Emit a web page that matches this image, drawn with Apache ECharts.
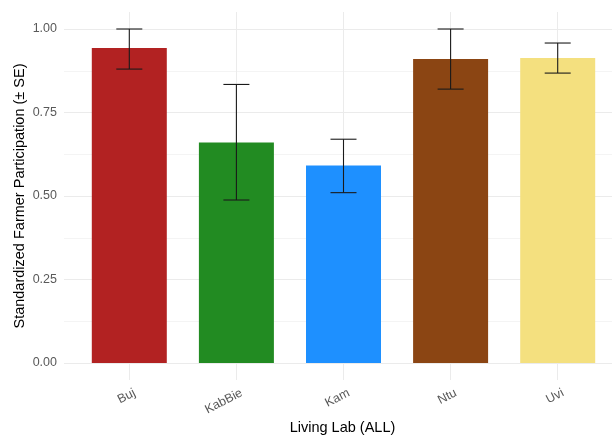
<!DOCTYPE html>
<html>
<head>
<meta charset="utf-8">
<script src="https://cdn.jsdelivr.net/npm/echarts@6/dist/echarts.min.js"></script>
<style>html,body{margin:0;padding:0;background:#fff;}#c{width:612px;height:438px;}</style>
</head>
<body>
<div id="c"></div>
<script>
var categories = ['Buj', 'KabBie', 'Kam', 'Ntu', 'Uvi'];
var means = [0.943, 0.660, 0.591, 0.910, 0.913];
var lower = [0.880, 0.488, 0.510, 0.820, 0.868];
var upper = [1.000, 0.834, 0.670, 1.000, 0.958];
var colors = ['#B22222', '#228B22', '#1E90FF', '#8B4513', '#F4E07F'];
var yTicks = [0, 0.25, 0.5, 0.75, 1.0];

var chart = echarts.init(document.getElementById('c'), null, {renderer: 'canvas'});
var font = '"Liberation Sans", Arial, sans-serif';

var option = {
  animation: false,
  backgroundColor: '#ffffff',
  grid: [
    {left: 75.75, right: 0.75, top: 29, bottom: 75},
    {left: 64, right: -9, top: 29, bottom: 75},
    {left: 129.3, right: 54.3, top: 12, bottom: 58}
  ],
  xAxis: [
    {gridIndex: 0, type: 'category', data: categories, show: false},
    {gridIndex: 1, type: 'value', min: 0, max: 1, show: false},
    {gridIndex: 2, type: 'category', data: categories, boundaryGap: false,
     axisLine: {show: false}, axisTick: {show: false},
     splitLine: {show: true, lineStyle: {color: '#EBEBEB', width: 1}},
     axisLabel: {rotate: 27, margin: 15, color: '#595959', fontSize: 12.5, fontFamily: font,
       padding: [0, -6, 0, 0]}}
  ],
  yAxis: [
    {gridIndex: 0, type: 'value', min: 0, max: 1, show: false},
    {gridIndex: 1, type: 'value', min: 0, max: yTicks[yTicks.length - 1], interval: 0.25,
     axisLine: {show: false}, axisTick: {show: false},
     axisLabel: {color: '#595959', fontSize: 12.5, fontFamily: font, margin: 7,
       formatter: function (v) { return v.toFixed(2); }},
     splitLine: {show: true, lineStyle: {color: '#EBEBEB', width: 1}},
     minorTick: {show: false, splitNumber: 2},
     minorSplitLine: {show: true, lineStyle: {color: '#F4F4F4', width: 1}}},
    {gridIndex: 2, type: 'value', min: 0, max: 1, show: false}
  ],
  series: [
    {
      type: 'bar', xAxisIndex: 0, yAxisIndex: 0,
      barWidth: 75,
      data: means.map(function (v, i) { return {value: v, itemStyle: {color: colors[i]}}; }),
      z: 3
    },
    {
      type: 'custom', xAxisIndex: 0, yAxisIndex: 0, clip: false, z: 5,
      data: categories.map(function (c, i) { return [i, lower[i], upper[i]]; }),
      renderItem: function (params, api) {
        var x = api.coord([api.value(0), 0])[0];
        var lo = api.coord([api.value(0), api.value(1)])[1];
        var hi = api.coord([api.value(0), api.value(2)])[1];
        var hw = 13;
        var st = {stroke: '#1a1a1a', lineWidth: 1.1};
        return {type: 'group', children: [
          {type: 'line', shape: {x1: x, y1: lo, x2: x, y2: hi}, style: st},
          {type: 'line', shape: {x1: x - hw, y1: lo, x2: x + hw, y2: lo}, style: st},
          {type: 'line', shape: {x1: x - hw, y1: hi, x2: x + hw, y2: hi}, style: st}
        ]};
      }
    }
  ],
  graphic: [
    {type: 'text', x: 342.5, y: 428,
     style: {text: 'Living Lab (ALL)', fontSize: 14.5, fontFamily: font, fill: '#000', align: 'center', verticalAlign: 'middle'}},
    {type: 'text', x: 20, y: 196, rotation: Math.PI / 2,
     style: {text: 'Standardized Farmer Participation (\u00B1 SE)', fontSize: 14.5, fontFamily: font, fill: '#000',
       align: 'center', verticalAlign: 'middle'}}
  ]
};
chart.setOption(option);
</script>
</body>
</html>
